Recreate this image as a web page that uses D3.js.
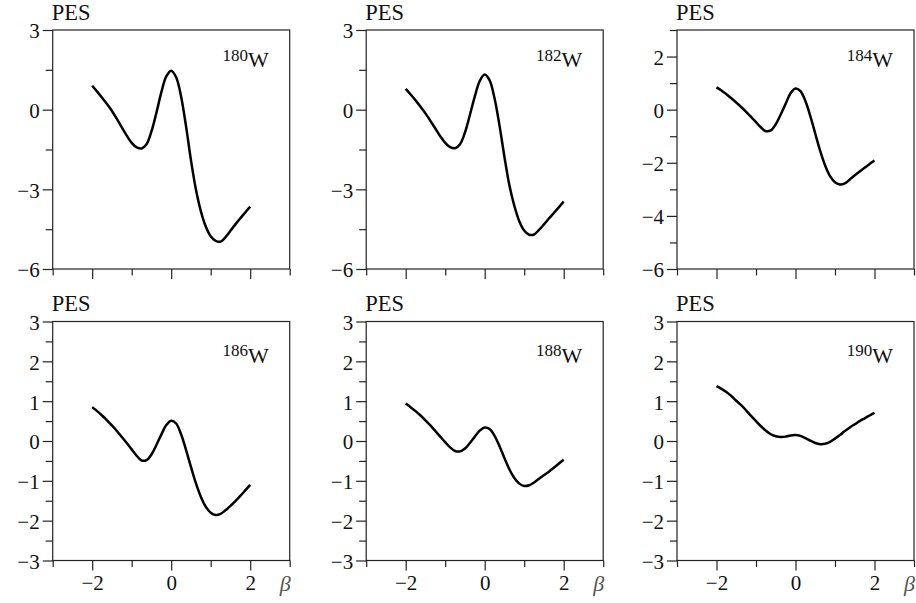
<!DOCTYPE html>
<html>
<head>
<meta charset="utf-8">
<script src="https://cdn.jsdelivr.net/npm/d3@7"></script>
<style>
  body { margin: 0; background: #fff; }
  svg { display: block; }
  text { font-family: "Liberation Serif", "DejaVu Serif", "Times New Roman", serif; fill: #111; }
</style>
</head>
<body>
<svg id="chart" width="916" height="603"></svg>
<script>
// ── Data ──────────────────────────────────────────────────────────────────
const beta = [-2, -1.875, -1.75, -1.625, -1.5, -1.375, -1.25, -1.125, -1, -0.875, -0.75,
              -0.625, -0.5, -0.375, -0.25, -0.125, 0, 0.125, 0.25, 0.375, 0.5, 0.625,
              0.75, 0.875, 1, 1.125, 1.25, 1.375, 1.5, 1.625, 1.75, 1.875, 2];

const pes180 = [0.90, 0.68, 0.45, 0.21, -0.05, -0.35, -0.67, -0.98, -1.25, -1.42, -1.46,
                -1.30, -0.82, -0.12, 0.65, 1.25, 1.47, 1.22, 0.50, -0.62, -1.90, -3.00,
                -3.82, -4.40, -4.77, -4.94, -4.97, -4.80, -4.56, -4.32, -4.09, -3.87, -3.65];
const pes182 = [0.78, 0.57, 0.35, 0.11, -0.14, -0.42, -0.71, -1.00, -1.25, -1.41, -1.45,
                -1.30, -0.86, -0.20, 0.50, 1.08, 1.32, 1.10, 0.42, -0.60, -1.78, -2.85,
                -3.62, -4.20, -4.55, -4.71, -4.70, -4.53, -4.32, -4.10, -3.89, -3.68, -3.46];
const pes184 = [0.84, 0.72, 0.58, 0.43, 0.27, 0.10, -0.08, -0.27, -0.47, -0.67, -0.81,
                -0.78, -0.55, -0.18, 0.22, 0.62, 0.80, 0.70, 0.33, -0.24, -0.90, -1.55,
                -2.10, -2.50, -2.73, -2.82, -2.78, -2.63, -2.47, -2.33, -2.19, -2.05, -1.91];
const pes186 = [0.85, 0.75, 0.64, 0.52, 0.39, 0.25, 0.10, -0.05, -0.21, -0.37, -0.49,
                -0.48, -0.34, -0.10, 0.16, 0.40, 0.51, 0.44, 0.17, -0.22, -0.65, -1.06,
                -1.40, -1.65, -1.80, -1.86, -1.83, -1.74, -1.63, -1.51, -1.38, -1.24, -1.10];
const pes188 = [0.94, 0.85, 0.75, 0.64, 0.52, 0.39, 0.25, 0.11, -0.03, -0.16, -0.25,
                -0.26, -0.19, -0.05, 0.11, 0.26, 0.34, 0.30, 0.13, -0.13, -0.43, -0.71,
                -0.93, -1.07, -1.13, -1.11, -1.04, -0.95, -0.86, -0.77, -0.67, -0.57, -0.47];
const pes190 = [1.38, 1.31, 1.23, 1.13, 1.01, 0.90, 0.77, 0.63, 0.50, 0.37, 0.26,
                0.17, 0.12, 0.10, 0.11, 0.14, 0.15, 0.13, 0.07, 0.01, -0.05, -0.08,
                -0.07, -0.02, 0.06, 0.15, 0.25, 0.34, 0.42, 0.50, 0.57, 0.64, 0.71];

const massNumbers = ['180', '182', '184', '186', '188', '190'];
const series      = [pes180, pes182, pes184, pes186, pes188, pes190];

const xMajor = [-2, 0, 2];
const xMinor = [-3, -1, 1, 3];

const yDomains = [[-6, 3], [-6, 3], [-6, 3], [-3, 3], [-3, 3], [-3, 3]];
const yMajor = [
  [-6, -3, 0, 3], [-6, -3, 0, 3], [-6, -4, -2, 0, 2],
  [-3, -2, -1, 0, 1, 2, 3], [-3, -2, -1, 0, 1, 2, 3], [-3, -2, -1, 0, 1, 2, 3]
];
const yMinor = [
  [-4.5, -1.5, 1.5], [-4.5, -1.5, 1.5], [-5, -3, -1, 1, 3],
  [-2.5, -1.5, -0.5, 0.5, 1.5, 2.5], [-2.5, -1.5, -0.5, 0.5, 1.5, 2.5], [-2.5, -1.5, -0.5, 0.5, 1.5, 2.5]
];

// ── Layout ────────────────────────────────────────────────────────────────
const colX = [52.7, 366.2, 677];
const rowY = [30, 321.5];
const PW = 237, PH = 239;
const labelDrop = [37, 41];
const FONT = '"Liberation Serif", "DejaVu Serif", "Times New Roman", serif';

const fmt = d => d < 0 ? '\u2212' + Math.abs(d) : String(d);

const svg = d3.select('#chart');

series.forEach((vals, i) => {
  const row = Math.floor(i / 3), col = i % 3;
  const g = svg.append('g')
    .attr('transform', `translate(${colX[col]},${rowY[row]})`);

  const x = d3.scaleLinear().domain([-3, 3]).range([0, PW]);
  const y = d3.scaleLinear().domain(yDomains[i]).range([PH, 0]);

  // y ticks (minor, then labelled)
  g.append('g')
    .call(d3.axisLeft(y).tickValues(yMinor[i]).tickSize(7).tickFormat(''))
    .call(a => a.select('.domain').remove());
  const ya = g.append('g')
    .call(d3.axisLeft(y).tickValues(yMajor[i]).tickSize(10).tickPadding(3).tickFormat(fmt))
    .call(a => a.select('.domain').remove());
  ya.selectAll('text').attr('dy', '0.38em');

  // x ticks
  g.append('g')
    .attr('transform', `translate(0,${PH})`)
    .call(d3.axisBottom(x).tickValues(xMinor).tickSize(6.5).tickFormat(''))
    .call(a => a.select('.domain').remove());
  g.append('g')
    .attr('transform', `translate(0,${PH})`)
    .call(d3.axisBottom(x).tickValues(xMajor).tickSize(10).tickPadding(4.5)
      .tickFormat(row === 1 ? fmt : ''))
    .call(a => a.select('.domain').remove());

  g.selectAll('.tick line').attr('stroke', '#222').attr('stroke-width', 1.2);
  g.selectAll('.tick text')
    .style('font-family', FONT).style('font-size', '21px').style('fill', '#111');

  // frame
  g.append('rect')
    .attr('width', PW).attr('height', PH)
    .attr('fill', 'none').attr('stroke', '#222').attr('stroke-width', 1.2);

  // curve
  const line = d3.line()
    .x((d, k) => x(beta[k]))
    .y(d => y(d))
    .curve(d3.curveCatmullRom.alpha(0.5));
  g.append('path')
    .datum(vals)
    .attr('d', line)
    .attr('fill', 'none')
    .attr('stroke', '#000')
    .attr('stroke-width', 2.5)
    .attr('stroke-linejoin', 'round');

  // PES label
  g.append('text')
    .attr('x', -1).attr('y', -10.5)
    .style('font-family', FONT).style('font-size', '22.5px')
    .text('PES');

  // nucleus label, e.g. 180W
  const lab = g.append('text')
    .attr('x', PW - 21).attr('y', labelDrop[row])
    .attr('text-anchor', 'end')
    .style('font-family', FONT);
  lab.append('tspan').style('font-size', '17px').attr('dy', -6.5).text(massNumbers[i]);
  lab.append('tspan').style('font-size', '22px').attr('dy', 6.5).text('W');

  // beta label
  if (row === 1) {
    g.append('text')
      .attr('x', PW + 1).attr('y', PH + 30)
      .attr('text-anchor', 'end')
      .style('font-family', FONT).style('font-size', '22px')
      .style('font-style', 'italic')
      .style('fill', '#555')
      .text('\u03b2');
  }
});
</script>
</body>
</html>
